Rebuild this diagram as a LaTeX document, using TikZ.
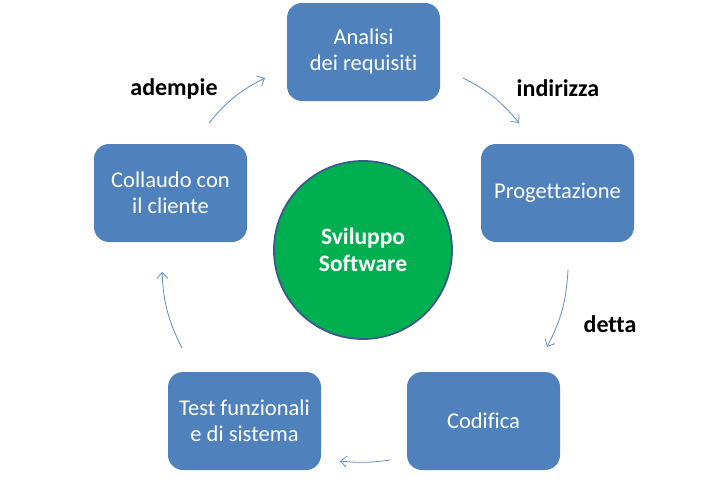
\documentclass[tikz,border=0pt]{standalone}
\usepackage{fontspec}
\setmainfont{Carlito}[Ligatures=CommonOff]
\usetikzlibrary{arrows.meta}

\definecolor{boxblue}{HTML}{4F81BD}
\definecolor{coregreen}{HTML}{00B050}
\definecolor{coreedge}{HTML}{3B5A8C}

\begin{document}
\begin{tikzpicture}[x=1pt,y=-1pt,
        phase node/.style={rectangle,rounded corners=15pt,fill=boxblue,text=white,
            minimum width=153pt,minimum height=98pt,align=center,
            font=\fontsize{22.5}{26}\selectfont},
        core node/.style={circle,fill=coregreen,draw=coreedge,line width=1.8pt,
            minimum size=178pt,text=white,align=center,
            font=\fontsize{23.5}{27}\selectfont\bfseries},
        verb label/.style={font=\fontsize{24}{28}\selectfont\bfseries},
        flow/.style={draw=boxblue!90!white,line width=0.8pt,
            -{Straight Barb[length=6pt,width=11pt]}},
    ]

    \useasboundingbox (0,0) rectangle (728,479);

    \node[core node] (core) at (363,250) {Sviluppo\\Software};

    \node[phase node] (1) at (363.5,52) {Analisi\\dei requisiti};
    \node[phase node] (2) at (557.5,193) {Progettazione};
    \node[phase node] (3) at (483.5,421) {Codifica};
    \node[phase node] (4) at (244.5,421) {Test funzionali\\e di sistema};
    \node[phase node] (5) at (170.5,193) {Collaudo con\\il cliente};

    % arrow ends
    \coordinate (a1) at (463,78);  \coordinate (b1) at (519,123);
    \coordinate (a2) at (568,270); \coordinate (b2) at (547,347);
    \coordinate (a3) at (390,460); \coordinate (b3) at (340,461);
    \coordinate (a4) at (182,348); \coordinate (b4) at (162,272);
    \coordinate (a5) at (209,123); \coordinate (b5) at (265,78);

    \draw[flow] (a1) to[bend left=12] (b1);
    \draw[flow] (a2) to[bend left=12] (b2);
    \draw[flow] (a3) to[bend left=7] (b3);
    \draw[flow] (a4) to[bend left=12] (b4);
    \draw[flow] (a5) to[bend left=12] (b5);

    \node[verb label] (l1) at (558,88) {indirizza};
    \node[verb label] (l2) at (610,324) {detta};
    \node[verb label] (l5) at (174,89) {adempie};
\end{tikzpicture}
\end{document}
